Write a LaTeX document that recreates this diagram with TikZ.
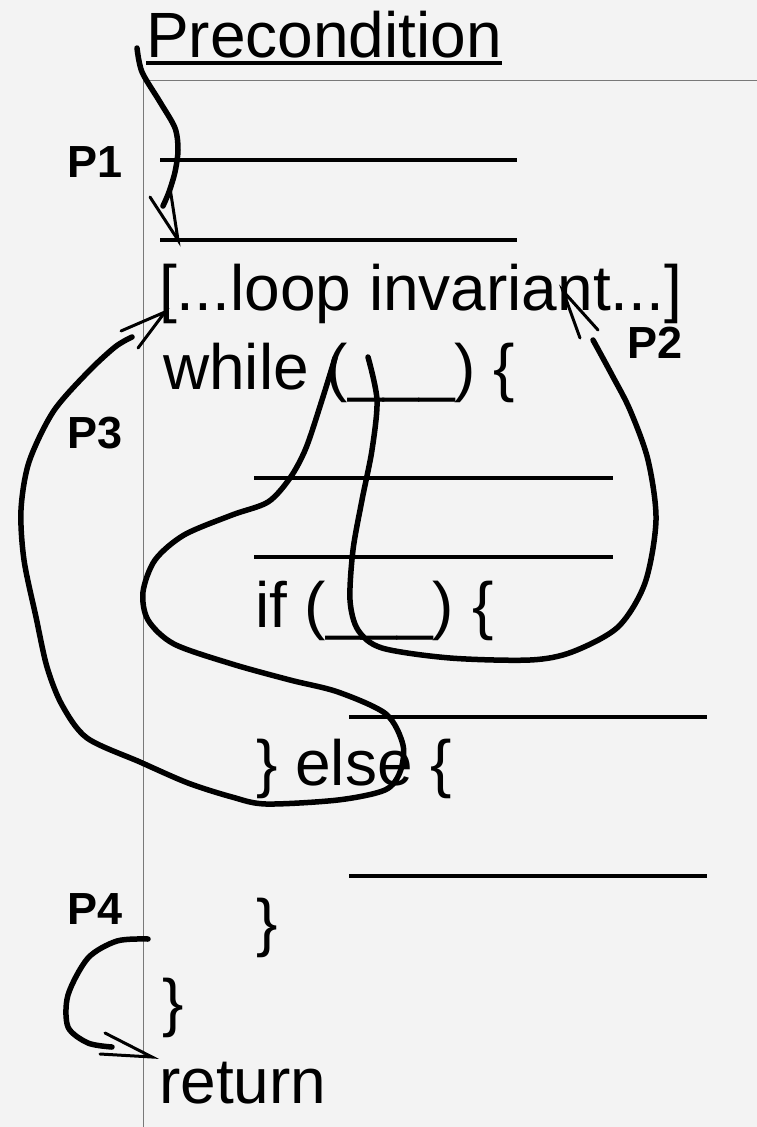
\documentclass[tikz,border=0pt]{standalone}
\usepackage{fontspec}
\setmainfont{Liberation Sans}
\usetikzlibrary{positioning}
\definecolor{paper}{RGB}{243,243,243}
\definecolor{rulegray}{RGB}{120,120,120}

\begin{document}
\begin{tikzpicture}[
  x=1pt, y=-1pt,
  code/.style={font=\fontsize{64}{70}\selectfont, anchor=base west, inner sep=0pt},
  plab/.style={font=\fontsize{45}{50}\selectfont\bfseries, anchor=base west, inner sep=0pt},
  blank/.style={line width=4pt},
  frame/.style={line width=0.9pt, rulegray},
  trace/.style={line width=5.5pt, line cap=round, line join=round},
  head/.style={line width=3pt, line cap=round, line join=miter},
]
% --- paper ---
\path[use as bounding box, fill=paper] (0,0) rectangle (757,1127);
% --- margin rule ---
\draw[frame] (143,1127) -- (143,80) -- (757,80);
% --- code text ---
\node[code] (pre) at (146,57) {Precondition};
\node[code] (inv) at (159,310) {[...loop invariant...]};
\node[code] (wh) at (163,389) {while (\_\_\_) \{};
\node[code] (cond) at (255,627) {if (\_\_\_) \{};
\node[code] (els) at (256,785) {\} else \{};
\node[code] (endif) at (256,944) {\}};
\node[code] (endwh) at (162,1024) {\}};
\node[code] (ret) at (159,1103) {return};
\draw[line width=3.5pt] ([yshift=-6pt]pre.base west) -- ([yshift=-6pt]pre.base east);
% --- blanks ---
\draw[blank] (160,160) -- (517,160);
\draw[blank] (160,240) -- (517,240);
\draw[blank] (254,478) -- (613,478);
\draw[blank] (254,557) -- (613,557);
\draw[blank] (349,717) -- (707,717);
\draw[blank] (349,876) -- (707,876);
% --- path labels ---
\node[plab] (l1) at (67,177) {P1};
\node[plab] (l2) at (627,358) {P2};
\node[plab] (l3) at (67,448) {P3};
\node[plab] (l4) at (67,924) {P4};
% --- P1: precondition to invariant ---
\coordinate (p1s) at (137,48);
\coordinate (p1e) at (163,206);
\coordinate (p1t) at (178,240);
\draw[trace] plot[smooth] coordinates {(p1s) (142,72) (160,102) (175,128) (178,150)
  (175,172) (169,192) (p1e)};
\draw[head] (150,197) -- (p1t) -- (170,188);
% --- P2: loop body, then-branch ---
\coordinate (p2s) at (368,357);
\coordinate (p2e) at (593,340);
\coordinate (p2t) at (563,291);
\draw[trace] plot[smooth] coordinates {(p2s) (377,400) (372,450) (362,500) (353,550)
  (350,600) (358,630) (382,648) (450,658) (530,660) (572,652) (618,627) (645,583)
  (656,520) (648,460) (630,410) (612,375) (p2e)};
\draw[head] (580,338) -- (p2t) -- (598,330);
% --- P3: loop body, else-branch ---
\coordinate (p3s) at (335,358);
\coordinate (p3e) at (132,337);
\coordinate (p3t) at (165,312);
\draw[trace] plot[smooth] coordinates {(p3s) (322,400) (306,448) (290,478) (268,502)
  (232,515) (184,535) (155,560) (143,592) (148,620) (174,644) (232,664) (290,680)
  (338,692) (386,714) (403,745) (400,772) (385,790) (338,800) (266,804) (232,797)
  (188,783) (140,762) (87,738) (62,705) (47,667) (36,617) (24,560) (21,510)
  (29,462) (53,412) (87,373) (115,347) (p3e)};
\draw[head] (121,331) -- (p3t) -- (138,348);
% --- P4: loop exit ---
\coordinate (p4s) at (148,939);
\coordinate (p4e) at (112,1047);
\coordinate (p4t) at (152,1057);
\draw[trace] plot[smooth] coordinates {(p4s) (117,941) (88,958) (68,995) (68,1027)
  (88,1043) (p4e)};
\draw[head] (100,1054) -- (p4t) -- (105,1033);
\end{tikzpicture}
\end{document}
